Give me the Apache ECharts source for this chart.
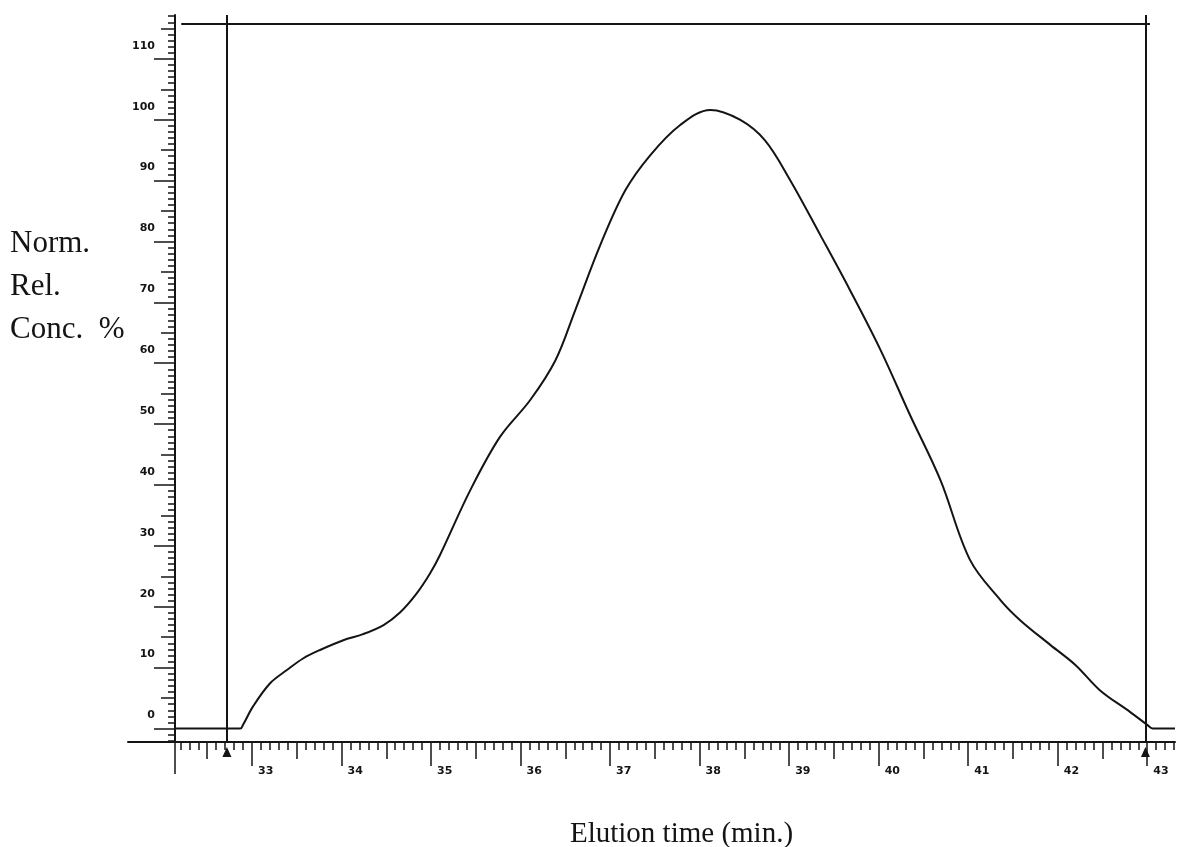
<!DOCTYPE html>
<html>
<head>
<meta charset="utf-8">
<title>Elution profile</title>
<script src="https://cdn.jsdelivr.net/npm/echarts@6/dist/echarts.min.js"></script>
<style>
  html, body { margin: 0; padding: 0; background: #fff; }
  #chart { width: 1184px; height: 847px; }
</style>
</head>
<body>
<div id="chart"></div>
<script>
// trace: elution time (min) vs normalised rel. concentration (%)
const elutionTime = [32.14, 32.87, 32.9, 33.01, 33.2, 33.39, 33.57, 33.76, 34.02, 34.24, 34.47, 34.65, 34.84, 34.99, 35.1, 35.44, 35.77, 36.11, 36.39, 36.61, 36.89, 37.17, 37.45, 37.78, 38.12, 38.45, 38.73, 39.01, 39.35, 39.68, 40.02, 40.35, 40.69, 41.02, 41.36, 41.58, 41.92, 42.2, 42.47, 42.81, 43.0, 43.06, 43.31];
const relConc = [0, 0, 0.6, 3.6, 7.4, 9.6, 11.5, 12.9, 14.5, 15.5, 17.0, 19.0, 22.2, 25.5, 28.5, 39.2, 47.9, 54.0, 60.5, 68.7, 79.4, 88.4, 94.2, 99.1, 101.6, 100.0, 96.6, 90.1, 81.0, 72.0, 62.2, 51.5, 40.8, 27.7, 21.1, 17.8, 13.7, 10.4, 6.3, 2.7, 0.6, 0, 0];

const xTickLabels = [33, 34, 35, 36, 37, 38, 39, 40, 41, 42, 43];
const yTickLabels = [0, 10, 20, 30, 40, 50, 60, 70, 80, 90, 100, 110];

// integration window (vertical lines + arrows) and the top reference line
const windowStart = 32.72;
const windowEnd = 42.98;
const topLine = { level: 115.8, from: 32.21, to: 43.03 };

const X_MIN = 31.615, X_MAX = 43.31;
const Y_MIN = -2.215, Y_MAX = 117.2;
const Y_AXIS_AT = 32.14;   // the y ruler sits here, the x ruler runs on past it to the left

const GRID = { left: 128, right: 9, top: 15, bottom: 105, outerBoundsMode: 'none', containLabel: false };
const plotWidth = 1184 - GRID.left - GRID.right;
const yOffset = -(Y_AXIS_AT - X_MIN) * plotWidth / (X_MAX - X_MIN);

const INK = '#141414';

function steps(from, to, step, keep) {
  const out = [];
  for (let i = Math.ceil(from / step - 1e-9); i * step <= to + 1e-9; i++) {
    const v = +(i * step).toFixed(3);
    if (!keep || keep(v)) out.push(v);
  }
  return out;
}
const isMult = (v, m) => Math.abs(v / m - Math.round(v / m)) < 1e-6;

const xMinor = steps(32.2, X_MAX, 0.1, v => !isMult(v, 0.5));
const xMid = steps(32.5, 42.5, 0.5, v => !isMult(v, 1));
const yMinor = steps(-2, Y_MAX, 1, v => !isMult(v, 5));
const yMid = steps(5, 115, 5, v => !isMult(v, 10));

const labelFont = { fontFamily: 'DejaVu Sans', fontWeight: 'bold', fontSize: 11, color: INK };

function xAxisWith(ticks, len, extra) {
  return Object.assign({
    type: 'value', min: X_MIN, max: X_MAX, position: 'bottom',
    axisLine: { show: false, onZero: false },
    splitLine: { show: false },
    axisLabel: { show: false },
    axisTick: { show: true, length: len, customValues: ticks, lineStyle: { color: INK, width: 1.5 } }
  }, extra);
}
function yAxisWith(ticks, len, extra) {
  return Object.assign({
    type: 'value', min: Y_MIN, max: Y_MAX, position: 'left', offset: yOffset,
    axisLine: { show: false, onZero: false },
    splitLine: { show: false },
    axisLabel: { show: false },
    axisTick: { show: true, length: len, customValues: ticks, lineStyle: { color: INK, width: 1.5 } }
  }, extra);
}

const chart = echarts.init(document.getElementById('chart'));
chart.setOption({
  backgroundColor: '#fff',
  animation: false,
  grid: GRID,
  xAxis: [
    xAxisWith(xTickLabels, 24, {
      axisLine: { show: true, onZero: false, lineStyle: { color: INK, width: 2 } },
      axisLabel: Object.assign({ show: true, customValues: xTickLabels, margin: 24, align: 'left', padding: [0, 0, 0, 6] }, labelFont),
      name: 'Elution time (min.)',
      nameLocation: 'middle',
      nameGap: 78,
      nameTextStyle: { fontFamily: 'Liberation Serif', fontSize: 29, color: INK, padding: [0, 0, 0, 60] }
    }),
    xAxisWith(xMid, 17),
    xAxisWith(xMinor, 8),
    xAxisWith([Y_AXIS_AT], 32)
  ],
  yAxis: [
    yAxisWith(yTickLabels, 21, {
      axisLine: { show: true, onZero: false, lineStyle: { color: INK, width: 2 } },
      axisLabel: Object.assign({ show: true, customValues: yTickLabels, margin: 20, verticalAlign: 'bottom', lineHeight: 26 }, labelFont)
    }),
    yAxisWith(yMid, 14),
    yAxisWith(yMinor, 7)
  ],
  graphic: [{
    type: 'text', left: 10, top: 222,
    style: {
      text: 'Norm.\nRel.\nConc.  %',
      font: '31px "Liberation Serif"',
      lineHeight: 43,
      fill: INK
    }
  }],
  series: [{
    type: 'line',
    data: elutionTime.map((t, i) => [t, relConc[i]]),
    showSymbol: false,
    smooth: 0.35,
    lineStyle: { color: INK, width: 2 },
    markLine: {
      silent: true,
      symbol: 'none',
      label: { show: false },
      lineStyle: { color: INK, width: 2, type: 'solid' },
      data: [
        { xAxis: windowStart },
        { xAxis: windowEnd },
        [{ coord: [topLine.from, topLine.level] }, { coord: [topLine.to, topLine.level] }]
      ]
    },
    markPoint: {
      silent: true,
      symbol: 'triangle',
      symbolSize: [9, 10],
      symbolOffset: [0, 10],
      label: { show: false },
      itemStyle: { color: INK },
      data: [
        { coord: [windowStart, Y_MIN + 0.01] },
        { coord: [windowEnd, Y_MIN + 0.01] }
      ]
    }
  }]
});
</script>
</body>
</html>
